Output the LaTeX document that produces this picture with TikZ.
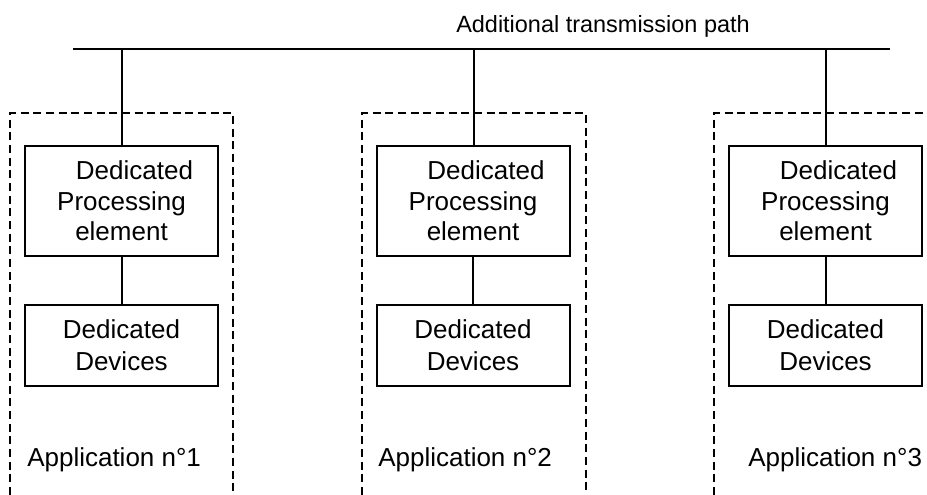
\documentclass[tikz,border=0pt]{standalone}
\usepackage{fontspec}
\setmainfont{Liberation Sans}
\begin{document}
\begin{tikzpicture}[x=0.75pt,y=-0.75pt,
  solidline/.style={line width=1.5pt},
  appbox/.style={line width=0.8pt, dash pattern=on 6pt off 3.5pt},
  procbox/.style={draw, line width=1.5pt, minimum width=144.75pt, minimum height=82.5pt, align=center, inner sep=0pt, font=\fontsize{19.5}{23}\selectfont},
  devbox/.style={draw, line width=1.5pt, minimum width=144.75pt, minimum height=60.75pt, align=center, inner sep=0pt, font=\fontsize{19.5}{24}\selectfont},
  lbl/.style={inner sep=0pt, font=\fontsize{19.5}{22}\selectfont},
  ttl/.style={inner sep=0pt, font=\fontsize{17.6}{22}\selectfont}]
\useasboundingbox (0,0) rectangle (927,495);
% application dashed frames
\draw[appbox] (10,495) -- (10,113) -- (233,113) -- (233,495);
\draw[appbox] (362,495) -- (362,113) -- (586,113) -- (586,495);
\draw[appbox] (714,495) -- (714,113) -- (930,113);
% bus
\coordinate (busL) at (73,49);
\coordinate (busR) at (890,49);
\draw[solidline] (busL) -- (busR);
\node[ttl, anchor=base] (title) at (603,33) {Additional transmission path};
\coordinate (t1) at (122,49);
\coordinate (t2) at (474,49);
\coordinate (t3) at (826,49);
% boxes
\node[procbox] (p1) at (121.5,201) {\hspace*{1em}Dedicated\\Processing\\element};
\node[procbox] (p2) at (473,201) {\hspace*{1em}Dedicated\\Processing\\element};
\node[procbox] (p3) at (825.5,201) {\hspace*{1em}Dedicated\\Processing\\element};
\node[devbox] (d1) at (121.5,345.5) {Dedicated\\Devices};
\node[devbox] (d2) at (473,345.5) {Dedicated\\Devices};
\node[devbox] (d3) at (825.5,345.5) {Dedicated\\Devices};
% connectors
\draw[solidline] (t1) -- (t1 |- p1.north);
\draw[solidline] (t2) -- (t2 |- p2.north);
\draw[solidline] (t3) -- (t3 |- p3.north);
\draw[solidline] (p1.south) -- (d1.north);
\draw[solidline] (p2.south) -- (d2.north);
\draw[solidline] (p3.south) -- (d3.north);
% labels
\node[lbl, anchor=base west] (a1) at (27,466) {Application n°1};
\node[lbl, anchor=base west] (a2) at (378,466) {Application n°2};
\node[lbl, anchor=base west] (a3) at (748,466) {Application n°3};
\end{tikzpicture}
\end{document}
